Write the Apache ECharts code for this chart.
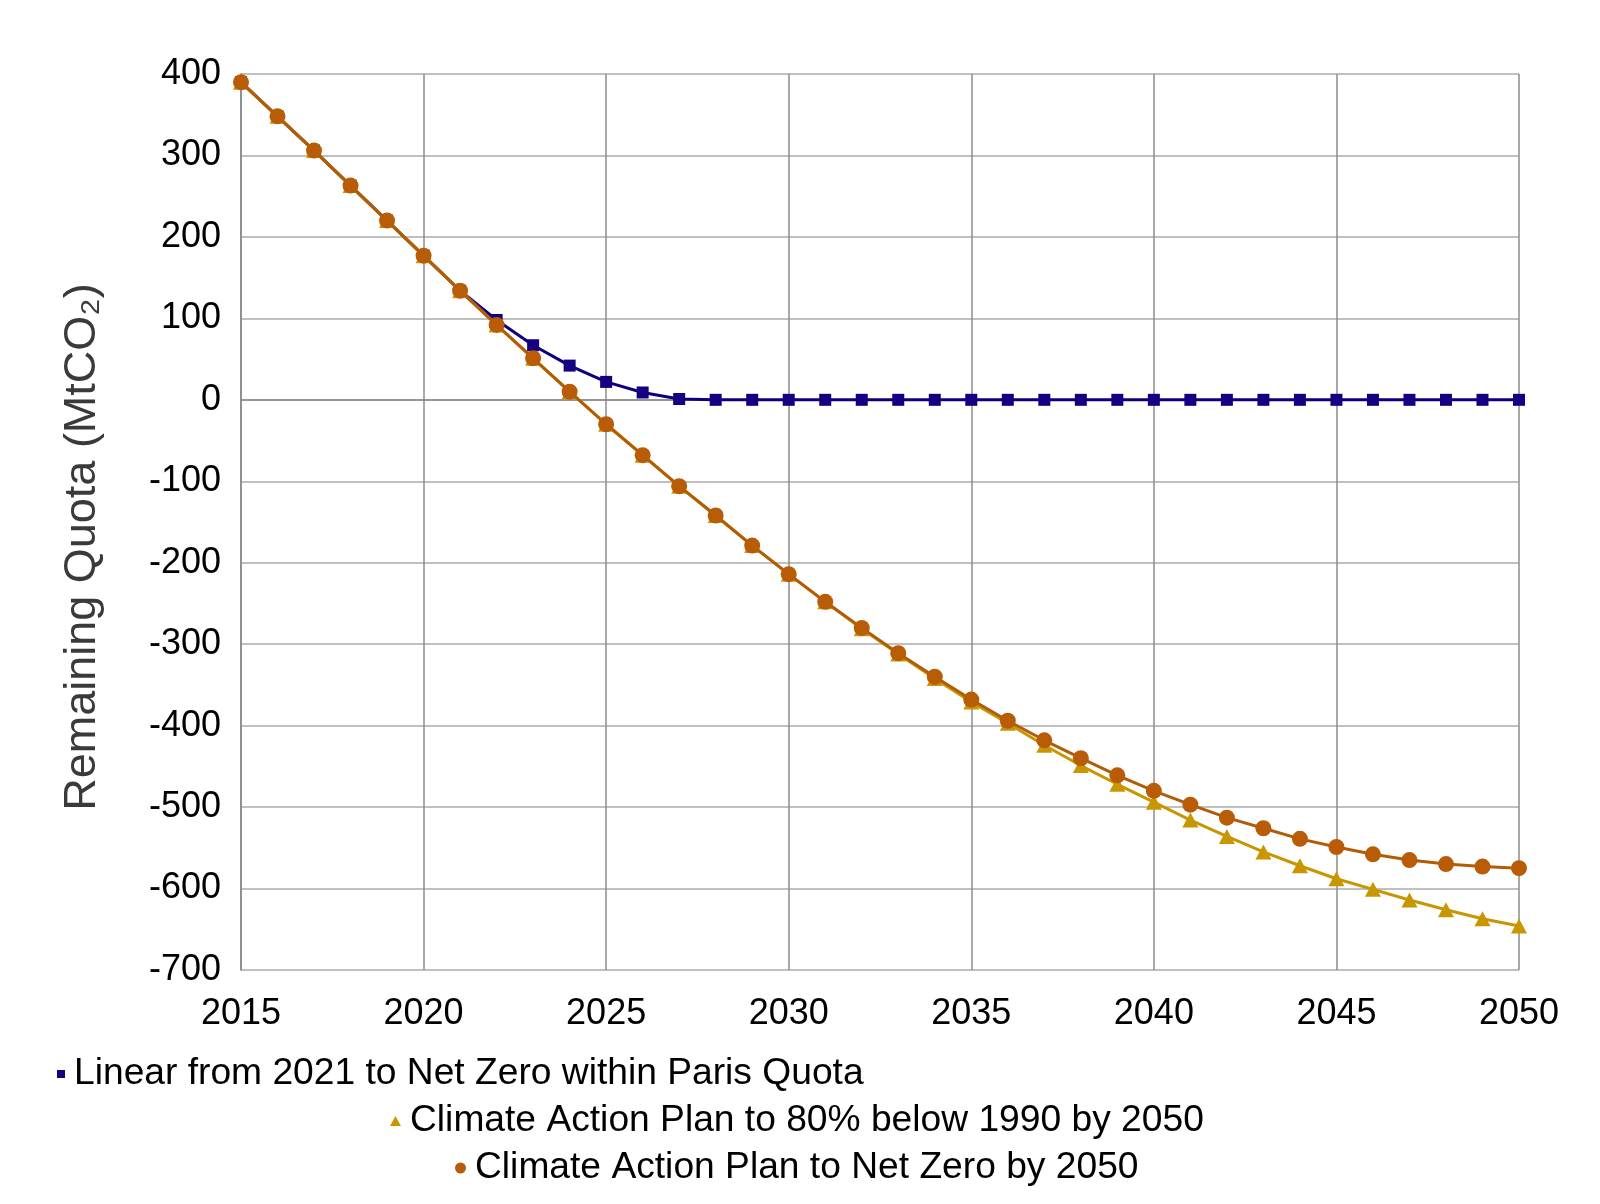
<!DOCTYPE html>
<html>
<head>
<meta charset="utf-8">
<script src="https://cdn.jsdelivr.net/npm/echarts@6/dist/echarts.min.js"></script>
<style>
html,body{margin:0;padding:0;background:#fff;}
#chart{width:1600px;height:1204px;}
</style>
</head>
<body>
<div id="chart"></div>
<script>
const years = [2015,2016,2017,2018,2019,2020,2021,2022,2023,2024,2025,2026,2027,2028,2029,2030,2031,2032,2033,2034,2035,2036,2037,2038,2039,2040,2041,2042,2043,2044,2045,2046,2047,2048,2049,2050];
const linearNetZero = [390,348,306,263,220,177,134,98,67,42,22,9,1,0,0,0,0,0,0,0,0,0,0,0,0,0,0,0,0,0,0,0,0,0,0,0];
const cap80 = [390,348,306,263,220,177,134,92,51,10,-30,-68,-106,-142,-179,-214,-248,-281,-312,-342,-371,-397,-424,-449,-472,-494,-516,-536,-555,-572,-588,-601,-614,-626,-637,-646];
const capNetZero = [390,348,306,263,220,177,134,92,51,10,-30,-68,-106,-142,-179,-214,-248,-280,-311,-340,-368,-394,-418,-440,-461,-480,-497,-513,-526,-539,-549,-558,-565,-570,-573,-575];
const seriesNames = ['Linear from 2021 to Net Zero within Paris Quota','Climate Action Plan to 80% below 1990 by 2050','Climate Action Plan to Net Zero by 2050'];
const yTitle = 'Remaining Quota (MtCO\u2082)';

const pair = arr => years.map((y,i)=>[y,arr[i]]);
const FONT = '"Liberation Sans", Arial, sans-serif';
const chart = echarts.init(document.getElementById('chart'), null, {renderer:'canvas'});
const legendText = {fontFamily:FONT, fontSize:37.2, color:'#000', lineHeight:42, padding:[0,0,0,4]};
chart.setOption({
  animation:false,
  backgroundColor:'#fff',
  grid:{left:241, right:81, top:74, bottom:234, containLabel:false},
  xAxis:{
    type:'value', min:2015, max:2050, interval:5,
    axisLine:{show:true, lineStyle:{color:'#888', width:1.5}},
    axisTick:{show:false},
    axisLabel:{fontFamily:FONT, fontSize:36, color:'#000', margin:26, formatter:v=>String(v)},
    splitLine:{show:true, lineStyle:{color:'#8c8c8c', width:1.5}}
  },
  yAxis:{
    type:'value', min:-700, max:400, interval:100,
    name:yTitle, nameLocation:'middle', nameGap:136, nameRotate:90,
    nameTextStyle:{fontFamily:FONT, fontSize:45, color:'#3a3a3a', padding:[0,50,0,0]},
    axisLine:{show:true, lineStyle:{color:'#888', width:1.5}},
    axisTick:{show:false},
    axisLabel:{fontFamily:FONT, fontSize:36, color:'#000', margin:20},
    splitLine:{show:true, lineStyle:{color:'#ababab', width:1.5}}
  },
  legend:[
    {left:57, top:1053, padding:0, itemWidth:8, itemHeight:8, textStyle:legendText,
     data:[{name:seriesNames[0], icon:'rect'}]},
    {left:390, top:1100, padding:0, itemWidth:11, itemHeight:10, textStyle:legendText,
     data:[{name:seriesNames[1], icon:'triangle'}]},
    {left:455, top:1147, padding:0, itemWidth:11, itemHeight:11, textStyle:legendText,
     data:[{name:seriesNames[2], icon:'circle'}]}
  ],
  series:[
    {name:seriesNames[0], type:'line', data:pair(linearNetZero), z:2,
     symbol:'rect', symbolSize:12, showAllSymbol:true,
     lineStyle:{color:'#0d0080', width:3}, itemStyle:{color:'#140080'}},
    {name:seriesNames[1], type:'line', data:pair(cap80), z:3,
     symbol:'triangle', symbolSize:[16,15], showAllSymbol:true,
     lineStyle:{color:'#c89600', width:3}, itemStyle:{color:'#c89600'}},
    {name:seriesNames[2], type:'line', data:pair(capNetZero), z:4,
     symbol:'circle', symbolSize:16, showAllSymbol:true,
     lineStyle:{color:'#b35c08', width:3}, itemStyle:{color:'#b85c08'}}
  ]
});
</script>
</body>
</html>
